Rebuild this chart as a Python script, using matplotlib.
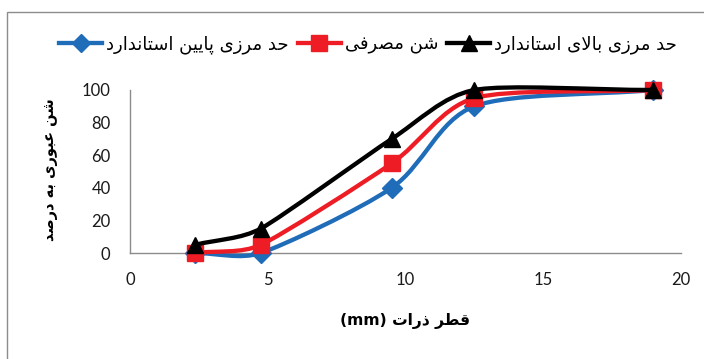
import matplotlib
matplotlib.use('Agg')
import matplotlib.pyplot as plt
from matplotlib.path import Path
from matplotlib.patches import PathPatch, Rectangle
from matplotlib.lines import Line2D
import numpy as np

# sieve sizes (mm) and percent passing
sizes = [2.36, 4.75, 9.5, 12.5, 19]
lower_limit = [0, 0, 40, 90, 100]
used_sand = [0, 5, 55, 95, 100]
upper_limit = [5, 15, 70, 100, 100]

x_ticks = [0, 5, 10, 15, 20]
y_ticks = [0, 20, 40, 60, 80, 100]

# contextual forms: isolated, final, initial, medial
FORMS = {
    'ا': ('\uFE8D', '\uFE8E', None, None),
    'ب': ('\uFE8F', '\uFE90', '\uFE91', '\uFE92'),
    'پ': ('\uFB56', '\uFB57', '\uFB58', '\uFB59'),
    'ت': ('\uFE95', '\uFE96', '\uFE97', '\uFE98'),
    'ح': ('\uFEA1', '\uFEA2', '\uFEA3', '\uFEA4'),
    'د': ('\uFEA9', '\uFEAA', None, None),
    'ذ': ('\uFEAB', '\uFEAC', None, None),
    'ر': ('\uFEAD', '\uFEAE', None, None),
    'ز': ('\uFEAF', '\uFEB0', None, None),
    'س': ('\uFEB1', '\uFEB2', '\uFEB3', '\uFEB4'),
    'ش': ('\uFEB5', '\uFEB6', '\uFEB7', '\uFEB8'),
    'ص': ('\uFEB9', '\uFEBA', '\uFEBB', '\uFEBC'),
    'ط': ('\uFEC1', '\uFEC2', '\uFEC3', '\uFEC4'),
    'ع': ('\uFEC9', '\uFECA', '\uFECB', '\uFECC'),
    'ف': ('\uFED1', '\uFED2', '\uFED3', '\uFED4'),
    'ق': ('\uFED5', '\uFED6', '\uFED7', '\uFED8'),
    'ل': ('\uFEDD', '\uFEDE', '\uFEDF', '\uFEE0'),
    'م': ('\uFEE1', '\uFEE2', '\uFEE3', '\uFEE4'),
    'ن': ('\uFEE5', '\uFEE6', '\uFEE7', '\uFEE8'),
    'ه': ('\uFEE9', '\uFEEA', '\uFEEB', '\uFEEC'),
    'و': ('\uFEED', '\uFEEE', None, None),
    '\u06CC': ('\uFBFC', '\uFBFD', '\uFBFE', '\uFBFF'),
    '\u064A': ('\uFBFC', '\uFBFD', '\uFBFE', '\uFBFF'),
    'لا': ('\uFEFB', '\uFEFC', None, None),
}


def fa(text):
    # join lam-alef, pick joining forms, then lay out right to left
    tokens = []
    i = 0
    while i < len(text):
        if text[i] == 'ل' and i + 1 < len(text) and text[i + 1] == 'ا':
            tokens.append('لا')
            i += 2
        else:
            tokens.append(text[i])
            i += 1
    out = []
    for k, t in enumerate(tokens):
        if t not in FORMS:
            out.append(t)
            continue
        prev = tokens[k - 1] if k > 0 else None
        nxt = tokens[k + 1] if k + 1 < len(tokens) else None
        j_prev = prev in FORMS and FORMS[prev][2] is not None
        j_next = FORMS[t][2] is not None and nxt in FORMS
        if j_prev and j_next:
            out.append(FORMS[t][3])
        elif j_prev:
            out.append(FORMS[t][1])
        elif j_next:
            out.append(FORMS[t][2])
        else:
            out.append(FORMS[t][0])
    return ''.join(reversed(out))


def smooth_path(ax, xs, ys):
    # bezier through the points in screen space; tangent length limited
    # by the shorter neighbouring segment to keep overshoot small
    p = ax.transData.transform(np.column_stack([xs, ys]).astype(float))
    n = len(p)
    tang = []
    for i in range(n):
        a = p[max(i - 1, 0)]
        b = p[min(i + 1, n - 1)]
        d = b - a
        tang.append(d / np.hypot(*d))
    seg = [np.hypot(*(p[i + 1] - p[i])) for i in range(n - 1)]
    verts = [p[0]]
    codes = [Path.MOVETO]
    for i in range(n - 1):
        l_a = min(seg[i], seg[i - 1]) if i > 0 else seg[i]
        l_b = min(seg[i], seg[i + 1]) if i + 1 < n - 1 else seg[i]
        c1 = p[i] + tang[i] * l_a / 3
        c2 = p[i + 1] - tang[i + 1] * l_b / 3
        verts += [c1, c2, p[i + 1]]
        codes += [Path.CURVE4] * 3
    verts = ax.transData.inverted().transform(np.array(verts))
    return Path(verts, codes)


fig = plt.figure(figsize=(7.04, 3.59), dpi=100)
ax = fig.add_axes([130 / 704, 1 - 253 / 359, 551 / 704, 163 / 359])
ax.set_xlim(0, 20)
ax.set_ylim(0, 100)

# outer chart frame
fig.patches.append(Rectangle((7 / 704, -0.5), 2, 1.5 - 12 / 359,
                             transform=fig.transFigure, fill=False,
                             edgecolor='#8c8c8c', lw=1))

series = [
    (lower_limit, '#1f6cb8', 'D', 10, fa('حد مرزی پایین استاندارد')),
    (used_sand, '#ee1c25', 's', 12, fa('شن مصرفی')),
    (upper_limit, '#000000', '^', 12, fa('حد مرزی بالای استاندارد')),
]

handles = []
for z, (vals, color, mk, ms, label) in enumerate(series):
    ax.add_patch(PathPatch(smooth_path(ax, sizes, vals), facecolor='none',
                           edgecolor=color, lw=3.1, capstyle='round',
                           zorder=3 + z, clip_on=False))
    ax.plot(sizes, vals, linestyle='none', marker=mk, ms=ms, color=color,
            mec=color, zorder=3 + z, clip_on=False)
    handles.append(Line2D([], [], color=color, lw=3.1, marker=mk, ms=ms - 1,
                          label=label))

ax.set_xticks(x_ticks)
ax.set_yticks(y_ticks)
for s in ['top', 'right']:
    ax.spines[s].set_visible(False)
for s in ['left', 'bottom']:
    ax.spines[s].set_color('#8c8c8c')
    ax.spines[s].set_linewidth(1)
ax.tick_params(length=0, labelsize=12, pad=14, colors='#1a1a1a')
for lab in ax.get_xticklabels() + ax.get_yticklabels():
    lab.set_fontfamily('Lato')

fig.text(50 / 704, 1 - 170 / 359, fa('شن عبوری به درصد'), rotation=90,
         ha='center', va='center', fontsize=10.5, fontweight='bold',
         family='DejaVu Sans')
fig.text(405 / 704, 1 - 321 / 359, '(mm) ' + fa('قطر ذرات'),
         ha='center', va='center', fontsize=11.2, fontweight='bold',
         family='DejaVu Sans')

fig.legend(handles=handles, loc='center', bbox_to_anchor=(368 / 704, 1 - 45 / 359),
           ncol=3, frameon=False, handlelength=2.4, handletextpad=0.2,
           columnspacing=0.5, prop={'family': 'DejaVu Sans', 'size': 13})

fig.savefig('out.png', dpi=100)
